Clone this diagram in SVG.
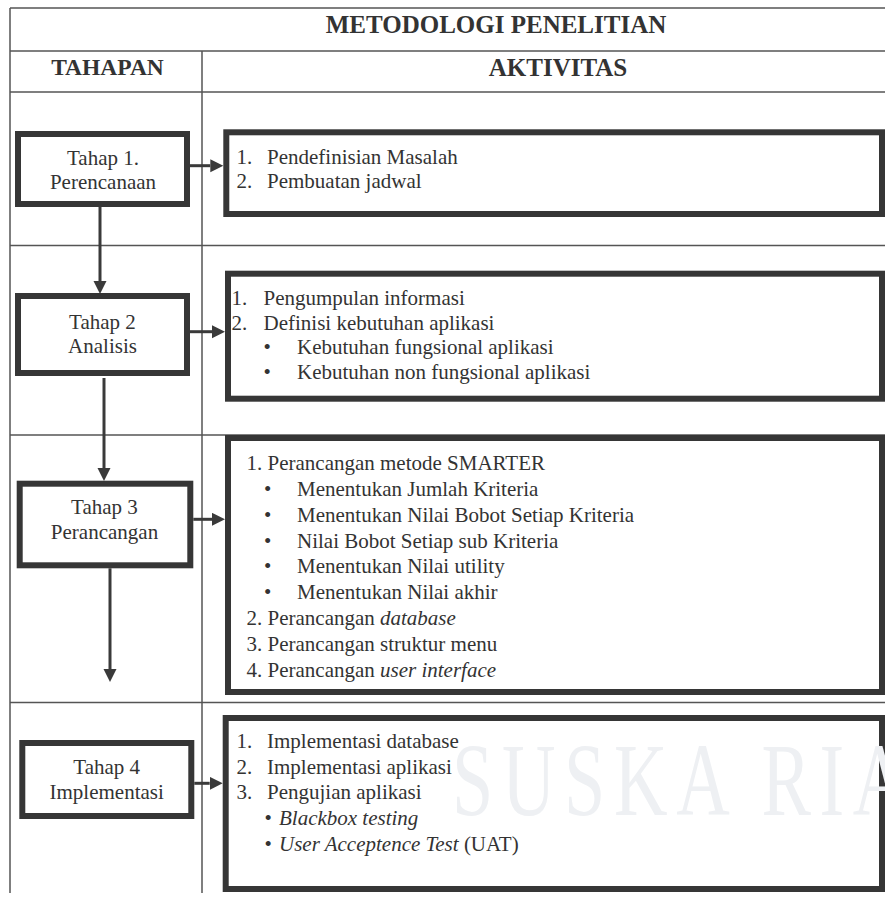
<svg xmlns="http://www.w3.org/2000/svg" width="885" height="897" viewBox="0 0 885 897">
  <style>
    .grid { stroke: #555; stroke-width: 1.5; fill: none; }
    .box { fill: #fff; stroke: #363636; stroke-width: 6; }
    text { font-family: 'Liberation Serif', 'Tinos', 'Times New Roman', 'DejaVu Serif', serif; }
    .t { font-size: 21px; fill: #333; }
    .c { text-anchor: middle; }
    .h { font-weight: bold; fill: #333; text-anchor: middle; }
    .i { font-style: italic; }
    .link { stroke: #3a3a3a; stroke-width: 3; fill: none; }
    .wm { fill: #eef0f3; }
  </style>
  <defs>
    <marker id="arrow" markerUnits="userSpaceOnUse" markerWidth="14" markerHeight="14" refX="0" refY="6.5" orient="auto">
      <path d="M0,0 L13,6.5 L0,13 Z" fill="#3a3a3a"/>
    </marker>
  </defs>

  <rect width="885" height="897" fill="#fff"/>

  <!-- table grid -->
  <g id="table" class="grid">
    <line x1="10" y1="8" x2="885" y2="8"/>
    <line x1="10" y1="51" x2="885" y2="51"/>
    <line x1="10" y1="92" x2="885" y2="92"/>
    <line x1="10" y1="245.5" x2="885" y2="245.5"/>
    <line x1="10" y1="435" x2="885" y2="435"/>
    <line x1="10" y1="702.5" x2="885" y2="702.5"/>
    <line x1="10" y1="8" x2="10" y2="893"/>
    <line x1="202" y1="51" x2="202" y2="893"/>
  </g>

  <g id="headers">
    <text class="h" x="496" y="33" font-size="25">METODOLOGI PENELITIAN</text>
    <text class="h" x="107.5" y="75" font-size="23.5">TAHAPAN</text>
    <text class="h" x="558" y="76" font-size="25">AKTIVITAS</text>
  </g>

  <!-- stage nodes -->
  <g id="tahap1">
    <rect class="box" x="18" y="134" width="169" height="70"/>
    <text class="t c" x="103" y="165">Tahap 1.</text>
    <text class="t c" x="103" y="188.5">Perencanaan</text>
  </g>
  <g id="tahap2">
    <rect class="box" x="18" y="296" width="169" height="77"/>
    <text class="t c" x="102.5" y="328.5">Tahap 2</text>
    <text class="t c" x="102.5" y="352.5">Analisis</text>
  </g>
  <g id="tahap3">
    <rect class="box" x="19.7" y="483.7" width="170.6" height="81.6"/>
    <text class="t c" x="104.5" y="513.5">Tahap 3</text>
    <text class="t c" x="104.5" y="538.5">Perancangan</text>
  </g>
  <g id="tahap4">
    <rect class="box" x="22.3" y="743" width="169" height="73"/>
    <text class="t c" x="106.7" y="773.5">Tahap 4</text>
    <text class="t c" x="106.7" y="798.5">Implementasi</text>
  </g>

  <!-- activity boxes -->
  <g id="aktivitas1">
    <rect class="box" x="226.3" y="132.3" width="655.7" height="81.7"/>
    <text class="t" x="236.5" y="163.5">1.</text>
    <text class="t" x="267" y="163.5">Pendefinisian Masalah</text>
    <text class="t" x="236.5" y="187.5">2.</text>
    <text class="t" x="267" y="187.5">Pembuatan jadwal</text>
  </g>
  <g id="aktivitas2">
    <rect class="box" x="228" y="273.7" width="654" height="125"/>
    <text class="t" x="231.5" y="305">1.</text>
    <text class="t" x="263.5" y="305">Pengumpulan informasi</text>
    <text class="t" x="231.5" y="330">2.</text>
    <text class="t" x="263.5" y="330">Definisi kebutuhan aplikasi</text>
    <text class="t" x="263.5" y="353.5">•</text>
    <text class="t" x="297" y="353.5">Kebutuhan fungsional aplikasi</text>
    <text class="t" x="263.5" y="378.5">•</text>
    <text class="t" x="297" y="378.5">Kebutuhan non fungsional aplikasi</text>
  </g>
  <g id="aktivitas3">
    <rect class="box" x="228" y="438" width="654" height="254"/>
    <text class="t" x="246.5" y="470">1. Perancangan metode SMARTER</text>
    <text class="t" x="264" y="496">•</text>
    <text class="t" x="297" y="496">Menentukan Jumlah Kriteria</text>
    <text class="t" x="264" y="522">•</text>
    <text class="t" x="297" y="522">Menentukan Nilai Bobot Setiap Kriteria</text>
    <text class="t" x="264" y="547.5">•</text>
    <text class="t" x="297" y="547.5">Nilai Bobot Setiap sub Kriteria</text>
    <text class="t" x="264" y="573">•</text>
    <text class="t" x="297" y="573">Menentukan Nilai utility</text>
    <text class="t" x="264" y="599">•</text>
    <text class="t" x="297" y="599">Menentukan Nilai akhir</text>
    <text class="t" x="246.5" y="625">2. Perancangan <tspan class="i">database</tspan></text>
    <text class="t" x="246.5" y="651">3. Perancangan struktur menu</text>
    <text class="t" x="246.5" y="677">4. Perancangan <tspan class="i">user interface</tspan></text>
  </g>
  <g id="aktivitas4">
    <rect class="box" x="225.7" y="718" width="656.3" height="171"/>
    <!-- faint lettering printed behind the list -->
    <text class="wm" font-size="103" letter-spacing="12" transform="translate(452,815) scale(0.72,1)">SUSKA RIA</text>
    <text class="t" x="236.5" y="748">1.</text>
    <text class="t" x="267" y="748">Implementasi database</text>
    <text class="t" x="236.5" y="774">2.</text>
    <text class="t" x="267" y="774">Implementasi aplikasi</text>
    <text class="t" x="236.5" y="799">3.</text>
    <text class="t" x="267" y="799">Pengujian aplikasi</text>
    <text class="t" x="264.5" y="825">•</text>
    <text class="t i" x="279" y="825">Blackbox testing</text>
    <text class="t" x="264.5" y="851">•</text>
    <text class="t" x="279" y="851"><tspan class="i">User Acceptence Test</tspan> (UAT)</text>
  </g>

  <!-- connectors -->
  <g id="connectors">
    <line class="link" x1="190" y1="165.7" x2="210.3" y2="165.7" marker-end="url(#arrow)"/>
    <line class="link" x1="190" y1="331.7" x2="212" y2="331.7" marker-end="url(#arrow)"/>
    <line class="link" x1="193.3" y1="519.3" x2="212" y2="519.3" marker-end="url(#arrow)"/>
    <line class="link" x1="194.3" y1="783.3" x2="209.7" y2="783.3" marker-end="url(#arrow)"/>
    <line class="link" x1="100" y1="207" x2="100" y2="281" marker-end="url(#arrow)"/>
    <line class="link" x1="104" y1="378" x2="104" y2="468" marker-end="url(#arrow)"/>
    <line class="link" x1="110" y1="568.3" x2="110" y2="669" marker-end="url(#arrow)"/>
  </g>
</svg>
